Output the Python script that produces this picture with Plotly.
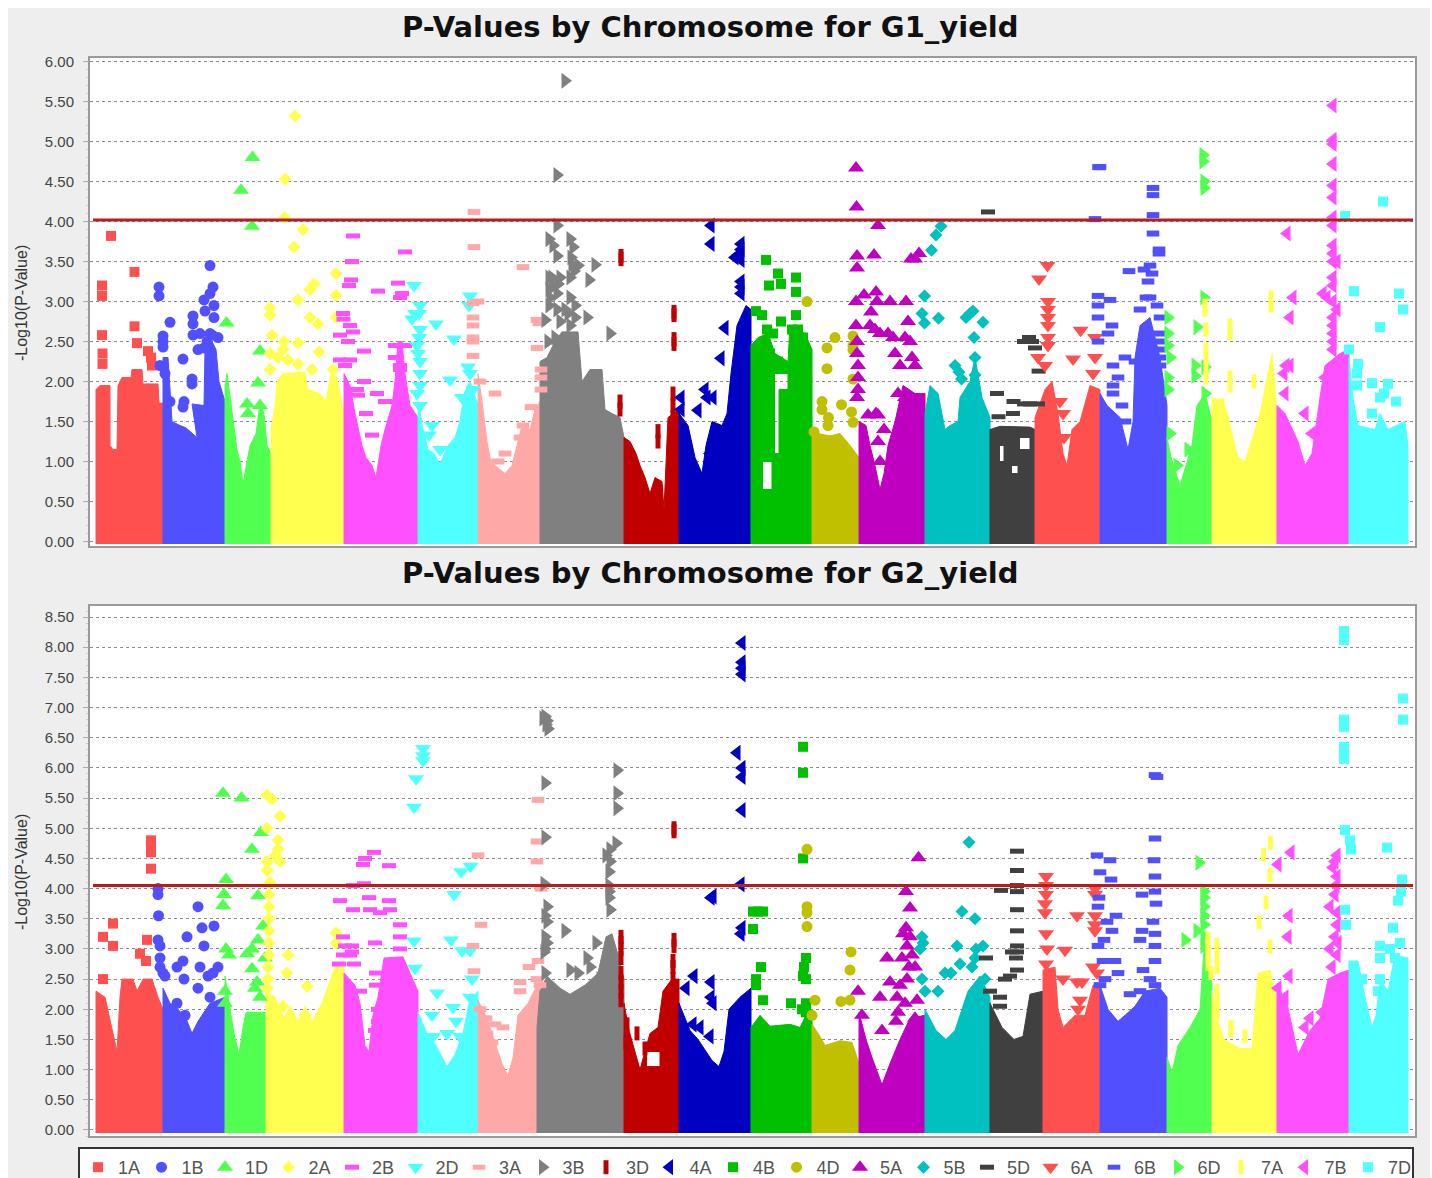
import plotly.graph_objects as go

W, H = 1432, 1178
CHROMS = ["1A","1B","1D","2A","2B","2D","3A","3B","3D","4A","4B","4D","5A","5B","5D","6A","6B","6D","7A","7B","7D"]
COLORS = ["#FF5050","#5050FF","#50FF50","#FFFF50","#FF50FF","#50FFFF","#FFA8A8","#808080","#C00000","#0000C0","#00C000","#C0C000","#C000C0","#00C0C0","#404040","#FF5050","#5050FF","#50FF50","#FFFF50","#FF50FF","#50FFFF"]
SYMBOLS = ["square","circle","triangle-up","diamond","line-ew","triangle-down","line-ew","triangle-right","line-ns","triangle-left","square","circle","triangle-up","diamond","line-ew","triangle-down","line-ew","triangle-right","line-ns","triangle-left","square"]
BOUNDS = [96,163,225,271,344,418,478,547,624,679,751,812,859,925,990,1043,1100,1167,1212,1277,1349,1408]
G1_THRESHOLD = 4.02
G2_THRESHOLD = 4.05

# ---- G1: upper outline of each chromosome's dense block (position, -log10 p)
G1_MASS_1A=[(96,1.9),(100,1.95),(110,1.95),(110,1.2),(113,1.15),(117,1.15),(118,1.95),(122,2.05),(131,2.05),(132,2.15),(142,2.15),(143,1.97),(158,1.97),(159,1.73),(163,1.73)]
G1_MASS_1B=[(163,2.3),(168,2.3),(170,1.9),(172,1.5),(180,1.45),(186,1.42),(197,1.3),(192,1.72),(204,1.7),(205,2.4),(212,2.5),(216,2.4),(219,2.0),(225,1.75)]
G1_MASS_1D=[(225,1.95),(227,2.1),(231,1.7),(234,1.4),(237,1.15),(240,1.0),(243,0.72),(247,1.0),(250,1.2),(256,1.35),(260,1.73),(264,1.6),(267,1.2),(271,1.1)]
G1_MASS_2A=[(271,1.4),(275,1.7),(277,2.0),(283,2.1),(305,2.12),(308,1.9),(320,1.85),(326,1.75),(331,2.1),(337,2.05),(344,1.6)]
G1_MASS_2B=[(344,2.1),(350,1.95),(355,1.6),(362,1.2),(366,1.05),(372,0.95),(376,0.8),(381,1.2),(385,1.4),(392,1.7),(395,2.0),(398,2.5),(402,2.5),(405,2.1),(410,1.7),(418,1.55)]
G1_MASS_2D=[(418,1.75),(423,1.4),(428,1.15),(434,1.1),(440,0.97),(448,1.2),(455,1.3),(460,1.5),(464,1.85),(470,2.0),(478,1.7)]
G1_MASS_3A=[(478,2.1),(482,1.75),(487,1.25),(490,1.05),(495,0.95),(505,0.85),(512,0.95),(518,1.25),(522,1.45),(530,1.4),(535,1.65),(540,1.75),(547,1.85)]
G1_MASS_3B=[(540,2.25),(547,2.3),(555,2.5),(562,2.62),(578,2.62),(582,2.0),(590,2.15),(602,2.15),(605,1.65),(612,1.6),(620,1.55),(624,1.3)]
G1_MASS_3D=[(624,1.3),(630,1.25),(636,1.1),(640,0.95),(645,0.8),(650,0.6),(655,0.8),(662,0.75),(664,0.4),(668,1.55),(679,1.65)]
G1_MASS_4A=[(679,1.6),(688,1.45),(695,1.05),(702,0.85),(706,1.2),(712,1.5),(722,1.45),(727,1.6),(731,2.1),(737,2.7),(746,2.95),(751,2.9)]
G1_MASS_4B=[(751,2.45),(758,2.55),(768,2.6),(775,2.35),(788,2.25),(790,2.7),(805,2.6),(812,2.4)]
G1_MASS_4D=[(812,1.3),(818,1.35),(830,1.32),(840,1.35),(850,1.2),(859,1.05)]
G1_MASS_5A=[(859,1.5),(866,1.45),(870,1.2),(875,0.95),(880,0.65),(884,0.85),(888,1.2),(895,1.5),(903,1.95),(915,1.85),(925,1.85)]
G1_MASS_5B=[(925,1.6),(930,1.95),(938,1.85),(945,1.4),(950,1.45),(958,1.5),(960,1.8),(970,2.0),(975,2.3),(982,1.8),(990,1.55)]
G1_MASS_5D=[(990,1.4),(1000,1.44),(1030,1.43),(1043,1.35)]
G1_MASS_6A=[(1035,1.55),(1045,1.9),(1052,2.0),(1058,1.6),(1063,1.1),(1067,0.95),(1072,1.4),(1080,1.5),(1090,1.95),(1100,1.9)]
G1_MASS_6B=[(1100,1.85),(1107,1.7),(1120,1.55),(1128,1.15),(1133,1.5),(1135,2.3),(1140,2.7),(1150,2.8),(1155,2.55),(1160,2.3),(1167,1.7)]
G1_MASS_6D=[(1167,1.3),(1172,1.0),(1180,0.7),(1186,0.95),(1192,1.2),(1197,1.7),(1205,1.85),(1212,1.5)]
G1_MASS_7A=[(1212,1.8),(1224,1.75),(1231,1.4),(1238,1.05),(1245,1.0),(1250,1.2),(1260,1.6),(1268,2.1),(1272,2.35),(1277,1.6)]
G1_MASS_7B=[(1277,1.7),(1285,1.6),(1298,1.25),(1305,0.95),(1312,1.1),(1320,1.8),(1325,2.2),(1340,2.35),(1349,2.4)]
G1_MASS_7D=[(1349,2.3),(1353,1.8),(1358,1.45),(1375,1.4),(1380,1.6),(1388,1.4),(1405,1.5),(1408,1.2)]

# ---- G1: individually visible markers
G1_HITS_1A=[(102,3.2),(102,3.07),(111,3.82),(102,2.58),(102.5,2.35),(102.5,2.22),(134.5,3.37),(134.5,2.69),(137,2.48),(148,2.38),(151,2.3),(152,2.2)]
G1_HITS_1B=[(159,3.18),(159,3.07),(170,2.74),(163,2.57),(163,2.5),(163,2.43),(183,2.28),(192,2.03),(192,1.97),(184,1.75),(183,1.68),(193,2.82),(193,2.72),(205,2.88),(204,3.02),(210,3.45),(213,3.18),(210,3.1),(214,2.95),(214,2.8),(207,2.5),(193,2.58),(200,2.6),(198,2.4),(204,2.42),(212,2.58),(218,2.55),(210,2.6),(160,2.2),(165,2.1),(170,1.75)]
G1_HITS_1D=[(241,4.39),(252.5,4.8),(252,3.94),(226.5,2.73),(260,2.38),(258,1.98),(247,1.72),(248,1.6),(260,1.7)]
G1_HITS_2A=[(295,5.32),(285,4.53),(284.5,4.05),(303,3.9),(294,3.68),(336,3.35),(314,3.22),(310,3.15),(298,3.02),(336,3.08),(270,2.92),(270,2.83),(310,2.8),(318,2.72),(336,2.8),(272,2.58),(284,2.5),(298,2.48),(319,2.37),(270,2.35),(278,2.3),(288,2.27),(298,2.22),(312,2.15),(333,2.15),(270,2.15),(283,2.4)]
G1_HITS_2B=[(353,3.82),(352,3.5),(351,3.27),(349,3.2),(343,2.85),(343.5,2.78),(350,2.7),(353,2.62),(340,2.58),(348,2.5),(340,2.27),(350,2.27),(345,2.2),(364,2.38),(364,2.0),(378,3.13),(398,3.23),(402,3.1),(400,3.05),(405,3.62),(358,1.83),(377,1.85),(366,1.6),(372,1.33),(395,2.45),(405,2.45),(395,2.3),(400,2.2),(400,2.15),(357,1.9),(385,1.75)]
G1_HITS_2D=[(414,3.2),(420,2.95),(419,2.85),(415,2.85),(412,2.78),(420,2.65),(419,2.55),(417,2.45),(418,2.35),(420,2.25),(420,2.1),(436,2.72),(454,2.53),(450,2.02),(470,3.07),(469,2.95),(468,2.18),(470,2.1),(420,1.95),(417,1.85),(420,1.7),(432,1.45),(429,1.33),(440,1.15),(462,1.8),(473,1.9)]
G1_HITS_3A=[(474,4.12),(474,3.68),(523,3.43),(478,3.0),(473,2.98),(473,2.8),(473,2.7),(473,2.55),(473,2.5),(473,2.32),(537,2.77),(539,2.73),(537,2.42),(541,2.15),(541,2.05),(480,2.0),(495,1.85),(531,1.68),(523,1.45),(520,1.3),(505,1.1),(498,1.0),(541,1.9)]
G1_HITS_3B=[(565,5.76),(557,4.58),(557,3.95),(549,3.78),(553,3.7),(570,3.78),(573,3.68),(557,3.57),(571,3.55),(578,3.45),(595,3.46),(549,3.3),(553,3.2),(560,3.3),(570,3.3),(589,3.27),(549,3.15),(557,3.1),(570,3.05),(575,2.95),(549,2.95),(557,2.9),(568,2.85),(575,2.8),(587,2.8),(610,2.6),(555,2.55),(545,2.77),(560,2.75),(570,2.7),(565,2.9),(548,2.5),(550,3.05),(558,3.22),(552,3.3),(572,3.46),(574,3.38)]
G1_HITS_3D=[(621,3.57),(621,3.53),(674,2.87),(674,2.83),(674,2.53),(674,2.47),(620,1.75),(620,1.65),(658,1.38),(658,1.25),(673,1.85),(673,1.7),(673,1.55)]
G1_HITS_4A=[(711,3.95),(711,3.72),(741,3.72),(741,3.65),(738,3.58),(741,3.52),(735,3.55),(741,3.25),(741,3.18),(741,3.1),(721,2.29),(725,2.67),(681,1.8),(705,1.9),(707,1.8),(698,1.64),(713,1.8),(681,1.65),(710,1.1)]
G1_HITS_4B=[(766,3.52),(778,3.35),(769,3.2),(781,3.22),(796,3.3),(796,3.12),(756,2.88),(762,2.83),(781,2.75),(796,2.83),(767,2.65),(773,2.6),(792,2.65),(798,2.65),(803,2.55),(762,2.4),(770,2.35),(778,2.25),(800,2.4)]
G1_HITS_4D=[(807,3.0),(835,2.55),(827,2.42),(827,2.16),(853,2.57),(853,2.45),(853,2.4),(853,2.03),(822,1.75),(822,1.65),(841.5,1.71),(828.5,1.55),(851.5,1.62),(853,1.49),(828,1.45),(814,1.37)]
G1_HITS_5A=[(856,4.67),(856.5,4.18),(878,3.95),(857,3.57),(857,3.42),(874,3.58),(911,3.53),(915,3.53),(919,3.6),(864,3.08),(856,3.0),(876,3.12),(877,3.0),(890,3.0),(906,3.0),(871,2.87),(856,2.7),(908,2.75),(870,2.7),(875,2.65),(880,2.6),(888,2.6),(893,2.55),(905,2.55),(910,2.5),(857,2.5),(857,2.35),(858,2.2),(895,2.35),(900,2.2),(912,2.3),(915,2.2),(858,2.05),(858,1.9),(857,1.8),(868,1.58),(876,1.6),(878,1.58),(884,1.4),(905,1.8),(898,1.85),(880,1.0),(878,1.25)]
G1_HITS_5B=[(941,3.94),(936,3.83),(931.5,3.64),(924.5,3.07),(922,2.85),(924.5,2.73),(938.5,2.79),(966,2.8),(970,2.85),(973,2.88),(983,2.74),(974,2.55),(955,2.2),(975,2.3),(961.5,2.03),(975,2.08),(959,2.12)]
G1_HITS_5D=[(988,4.12),(1024,2.5),(1029,2.55),(1032,2.5),(1035,2.42),(1038.6,2.13),(997,1.85),(1013.5,1.75),(1024,1.72),(1030,1.72),(1038,1.72),(998.5,1.56),(1013,1.6)]
G1_HITS_6A=[(1047.5,3.45),(1039,3.28),(1048,3.0),(1048,2.9),(1048,2.8),(1048,2.7),(1048,2.55),(1048,2.45),(1080.6,2.64),(1095,2.55),(1073,2.28),(1038,2.3),(1060,1.75),(1063,1.6),(1064,1.3),(1095,2.3),(1093,2.1),(1045,2.2)]
G1_HITS_6B=[(1098.5,4.68),(1100,4.68),(1095,4.03),(1153,4.42),(1153,4.33),(1153,4.08),(1153,3.85),(1159,3.6),(1159,3.65),(1144,3.4),(1129,3.38),(1150,3.45),(1152,3.35),(1148,3.25),(1098,3.07),(1110,3.02),(1098,2.95),(1098,2.8),(1112,2.7),(1108,2.6),(1098,2.5),(1146,3.05),(1150,3.05),(1157,2.95),(1160,2.8),(1140,2.9),(1160,2.6),(1160,2.5),(1160,2.4),(1160,2.3),(1160,2.2),(1113,2.2),(1125,2.3),(1118,2.05),(1113,1.95),(1113,1.85),(1122,1.7),(1125,1.5),(1135,2.25)]
G1_HITS_6D=[(1203,4.83),(1203,4.75),(1204,4.5),(1204,4.42),(1204,3.05),(1168,2.8),(1197,2.68),(1195,2.2),(1205,2.18),(1195,2.07),(1205,1.85),(1170,1.35),(1177,0.95),(1188,1.15),(1168,2.6),(1168,2.45),(1170,2.3),(1168,2.05),(1168,1.9)]
G1_HITS_7A=[(1205,2.95),(1205,2.9),(1206,2.65),(1206,2.4),(1206,2.3),(1206,2.15),(1206,2.05),(1230,2.7),(1230,2.6),(1230,2.05),(1230,1.95),(1254,2.0),(1271,3.05),(1271,2.95),(1222,1.7),(1226,1.5),(1225,1.15)]
G1_HITS_7B=[(1333,5.45),(1333,5.02),(1333,4.97),(1333,4.72),(1333,4.45),(1333,4.3),(1333,4.05),(1333,3.95),(1287,3.85),(1333,3.7),(1333,3.6),(1337,3.5),(1333,3.5),(1333,3.3),(1333,3.2),(1293,3.05),(1323,3.1),(1327,3.05),(1333,3.0),(1337,2.9),(1290,2.8),(1333,2.8),(1333,2.7),(1333,2.6),(1333,2.5),(1333,2.4),(1290,2.2),(1284,2.1),(1286,2.2),(1285,1.85),(1305,1.6),(1312,1.35),(1325,2.05)]
G1_HITS_7D=[(1345,4.07),(1383,4.25),(1354,3.13),(1399,3.1),(1403,2.9),(1380,2.68),(1349,2.4),(1358,2.22),(1357,2.1),(1372,1.98),(1388,1.97),(1384,1.85),(1380,1.8),(1396,1.75),(1357,1.95),(1372,1.6)]

# ---- G2: upper outlines
G2_MASS_1A=[(96,2.3),(105,2.2),(112,1.7),(117,1.3),(120,2.2),(122,2.5),(133,2.5),(137,2.3),(143,2.5),(152,2.5),(158,2.2),(163,2.0)]
G2_MASS_1B=[(163,2.35),(170,2.1),(178,2.0),(186,1.85),(192,1.6),(198,1.8),(210,2.1),(225,2.2)]
G2_MASS_1D=[(225,2.55),(230,2.0),(234,1.6),(239,1.25),(243,1.7),(246,1.95),(265,1.95),(271,1.8)]
G2_MASS_2A=[(266,2.3),(275,2.2),(284,1.85),(290,2.05),(298,1.8),(305,2.05),(312,1.8),(322,2.1),(335,2.7),(344,2.7)]
G2_MASS_2B=[(344,2.6),(355,2.4),(360,2.1),(365,1.4),(369,1.3),(373,1.9),(378,2.2),(384,2.85),(403,2.87),(410,2.6),(418,2.3)]
G2_MASS_2D=[(418,1.95),(427,1.6),(436,1.4),(447,1.05),(455,1.25),(463,1.6),(469,2.1),(478,2.3)]
G2_MASS_3A=[(478,2.15),(487,1.85),(495,1.45),(502,1.1),(508,0.9),(513,1.2),(518,1.9),(528,2.1),(537,2.4),(547,2.2)]
G2_MASS_3B=[(537,1.7),(540,2.3),(547,2.55),(560,2.35),(570,2.25),(585,2.4),(598,2.6),(606,3.2),(612,3.25),(618,2.9),(624,2.5)]
G2_MASS_3D=[(624,2.1),(629,1.65),(633,1.4),(640,1.0),(645,1.3),(650,1.6),(658,1.7),(663,2.3),(672,2.5),(679,2.5)]
G2_MASS_4A=[(679,2.1),(690,1.65),(698,1.5),(712,1.15),(719,1.05),(724,1.3),(729,2.0),(740,2.2),(751,2.35)]
G2_MASS_4B=[(751,1.7),(760,1.9),(770,1.72),(790,1.75),(800,1.7),(806,1.9),(812,1.85)]
G2_MASS_4D=[(812,1.75),(820,1.55),(825,1.4),(840,1.48),(852,1.45),(859,1.1)]
G2_MASS_5A=[(859,1.95),(866,1.5),(872,1.2),(882,0.75),(890,1.1),(900,1.5),(910,1.85),(925,1.9)]
G2_MASS_5B=[(925,2.0),(936,1.65),(946,1.5),(955,1.65),(968,2.3),(980,2.55),(990,2.2)]
G2_MASS_5D=[(990,2.1),(996,1.9),(1002,1.7),(1014,1.5),(1023,1.55),(1030,2.25),(1043,2.3)]
G2_MASS_6A=[(1043,2.65),(1055,2.7),(1058,2.0),(1063,1.7),(1075,1.9),(1085,1.9),(1093,2.4),(1100,2.4)]
G2_MASS_6B=[(1100,2.4),(1108,2.0),(1118,1.8),(1125,1.9),(1135,2.05),(1145,2.3),(1160,2.35),(1167,2.2)]
G2_MASS_6D=[(1167,1.2),(1172,0.95),(1178,1.4),(1190,1.7),(1200,2.0),(1204,3.0),(1208,3.0),(1212,2.4)]
G2_MASS_7A=[(1212,2.3),(1218,1.8),(1224,1.5),(1240,1.35),(1252,1.35),(1258,2.6),(1270,2.65),(1277,2.1)]
G2_MASS_7B=[(1277,2.4),(1287,2.1),(1298,1.25),(1310,1.65),(1320,1.85),(1328,2.5),(1340,2.6),(1349,2.65)]
G2_MASS_7D=[(1349,2.8),(1358,2.8),(1365,2.2),(1372,1.7),(1376,1.9),(1380,2.5),(1388,2.3),(1395,2.9),(1408,2.85)]

# ---- G2: individually visible markers
G2_HITS_1A=[(103,3.2),(113,3.42),(113,3.05),(103,2.5),(140,2.92),(146,2.8),(147,3.15),(151,4.8),(151,4.7),(151,4.6),(151,4.33)]
G2_HITS_1B=[(158,4.0),(158,3.9),(158.5,3.55),(158,3.15),(160,3.05),(160,2.85),(160,2.7),(163,2.6),(165,2.55),(177,2.7),(183,2.8),(187,3.2),(184,2.5),(198,3.7),(202,3.35),(214,3.38),(204,3.05),(200,2.7),(208,2.55),(198,2.35),(213,2.6),(218,2.7),(210,2.2),(177,2.1),(185,1.9)]
G2_HITS_1D=[(223,5.58),(241.5,5.5),(261,4.93),(252,4.65),(226,4.15),(224,3.9),(223,3.72),(258,3.88),(263,3.38),(258,3.15),(226,3.0),(229,2.9),(247,2.92),(252,3.0),(265,2.85),(252,2.67),(257,2.45),(260,2.2),(225,2.3),(225,2.1),(255,2.35)]
G2_HITS_2A=[(267,5.55),(272,5.48),(280,5.2),(267,5.0),(278,4.8),(278,4.65),(275,4.55),(267,4.45),(280,4.45),(267,4.3),(270,4.1),(269,3.9),(269,3.7),(269,3.5),(269,3.3),(269,3.1),(269,2.9),(268,2.7),(268,2.5),(288,2.9),(287,2.6),(307,2.38),(336,3.27),(336,3.1),(283,2.05),(305,1.9),(267,2.35)]
G2_HITS_2B=[(340,3.8),(365,4.5),(363,4.4),(374,4.6),(389,4.38),(353,4.05),(364,4.08),(369,3.85),(353,3.65),(370,3.65),(380,3.6),(389,3.8),(390,3.65),(400,3.4),(400,3.2),(400,3.0),(375,3.1),(343,3.2),(352,3.05),(343,2.9),(352,2.95),(339,2.75),(354,2.75),(376,2.6),(376,2.4),(360,2.3),(378,2.0),(378,1.8),(375,1.65),(350,2.9),(345,3.05)]
G2_HITS_2D=[(423,6.32),(423,6.2),(423,6.12),(416,5.82),(414,5.35),(470.6,4.37),(461,4.28),(454,3.9),(414,3.13),(451,3.15),(462,2.97),(470,2.97),(415,2.68),(472,2.5),(437,2.27),(453,2.03),(470,2.2),(432,1.9),(456,1.8),(447,1.6),(460,1.55),(433,1.55)]
G2_HITS_3A=[(538,5.47),(537,4.78),(537,4.45),(541,4.0),(478,4.55),(481,3.4),(473,3.05),(538,2.8),(529,2.7),(474,2.63),(520,2.45),(520,2.3),(537,2.5),(540,2.4),(480,2.0),(486,1.85),(495,1.75),(503,1.7),(487,1.6),(492,1.45)]
G2_HITS_3B=[(545,6.85),(547,6.78),(546,6.72),(548,6.65),(543,6.82),(617,5.96),(545,5.75),(617,5.58),(617,5.33),(545,4.85),(616,4.75),(610,4.65),(606,4.55),(610,4.45),(609,4.28),(609,4.05),(609,3.95),(609,3.85),(544,4.08),(547,3.7),(545,3.55),(547,3.45),(610,3.65),(545,3.2),(547,3.1),(545,3.0),(565,3.3),(596,3.1),(544,2.95),(587,2.85),(545,2.6),(570,2.65),(578,2.6),(590,2.7),(600,2.5)]
G2_HITS_3D=[(621,3.2),(621,3.1),(621,3.0),(621,2.85),(621,2.6),(621,2.45),(621,2.3),(621,2.15),(674,5.0),(674,4.95),(674,3.15),(674,3.05),(673,2.8),(673,2.7),(627,1.75),(637,1.6),(645,1.35),(673,2.5),(626,1.45)]
G2_HITS_4A=[(742,8.07),(742,7.75),(742,7.65),(742,7.55),(737,6.25),(742,6.0),(742,5.85),(742,5.3),(741,4.07),(711,3.85),(713,3.87),(742,3.35),(741,3.25),(694,2.55),(711,2.45),(686,2.35),(711,2.2),(693,1.75),(700,1.7),(710,1.55),(713,2.1)]
G2_HITS_4B=[(803,6.35),(803,5.92),(803,4.5),(753,3.62),(758,3.62),(763,3.62),(753,3.33),(761,2.7),(756,2.5),(756,2.4),(763,2.15),(791,2.1),(806,2.85),(804,2.7),(803,2.55),(806,2.5),(806,2.1),(806,1.95),(802,2.0)]
G2_HITS_4D=[(807,4.65),(807,3.7),(807,3.6),(807,3.37),(851,2.95),(850,2.65),(815,2.15),(841,2.13),(850,2.15),(812,1.9)]
G2_HITS_5A=[(918.5,4.51),(906,3.95),(910,3.68),(906,3.35),(903,3.25),(910,3.2),(907,3.05),(912,2.9),(915,2.7),(887,2.85),(902,2.85),(909,2.7),(890,2.45),(907,2.5),(900,2.4),(880,2.2),(897,2.2),(905,2.1),(917,2.15),(858,2.3),(862,1.9),(882,1.65),(896,1.8),(898,1.95),(915,1.85)]
G2_HITS_5B=[(969,4.77),(962,3.62),(975,3.5),(922,3.2),(923,3.1),(920,3.0),(957,3.05),(976,3.0),(983,3.05),(975,2.85),(972,2.7),(960,2.75),(945,2.6),(951,2.6),(985,2.5),(922,2.5),(925,2.3),(938,2.3)]
G2_HITS_5D=[(1017,4.62),(1017,4.3),(1017,4.05),(1017,3.95),(1001,3.97),(1017,3.65),(1017,3.3),(1017,3.05),(1017,2.95),(1012,2.95),(1016,2.85),(986,2.85),(1010,2.55),(1017,2.65),(1005,2.5),(1000,2.2),(990,2.3),(1000,2.05)]
G2_HITS_6A=[(1046,4.2),(1046,4.05),(1046,3.9),(1045,3.75),(1045,3.6),(1046,3.25),(1047,3.0),(1077,3.55),(1095,3.55),(1095,3.4),(1095,3.3),(1095,4.0),(1095,3.9),(1065,2.98),(1046,2.75),(1063,2.5),(1077,2.45),(1082,2.45),(1093,2.7),(1097,2.6),(1080,2.15),(1078,2.0)]
G2_HITS_6B=[(1155,5.88),(1157,5.85),(1155,4.83),(1097,4.55),(1110,4.47),(1100,4.27),(1111,4.15),(1154,4.47),(1155,4.2),(1155,3.95),(1142,3.9),(1156,3.75),(1116,3.55),(1153,3.45),(1099,3.85),(1098,3.7),(1107,3.45),(1112,3.3),(1104,3.15),(1098,3.05),(1142,3.3),(1155,3.25),(1140,3.15),(1155,3.05),(1103,2.8),(1115,2.8),(1143,2.65),(1155,2.8),(1105,2.5),(1118,2.6),(1100,2.4),(1150,2.5),(1140,2.3),(1130,2.25),(1155,2.4)]
G2_HITS_6D=[(1199,4.43),(1204,3.95),(1204,3.85),(1204,3.7),(1204,3.55),(1204,3.4),(1204,3.2),(1204,3.05),(1185,3.15),(1197,3.3)]
G2_HITS_7A=[(1270.4,4.76),(1263.5,4.56),(1270,4.23),(1266,3.77),(1259,3.44),(1270,3.04),(1208,3.17),(1217,3.07),(1231,1.71),(1245,1.55),(1208,3.05),(1208,2.9),(1208,2.75),(1217,2.85),(1217,2.7),(1211,2.6),(1217,2.3),(1217,2.1),(1217,1.95),(1231,1.65)]
G2_HITS_7B=[(1291,4.6),(1278,4.4),(1337,4.55),(1335,4.45),(1333,4.35),(1337,4.2),(1336,4.05),(1335,3.9),(1330,3.7),(1337,3.6),(1289,3.55),(1337,3.4),(1288,3.2),(1335,3.2),(1338,3.1),(1330,3.0),(1337,2.9),(1332,2.7),(1289,2.55),(1278,2.35),(1285,2.2),(1322,1.95),(1310,1.85),(1305,1.7)]
G2_HITS_7D=[(1344,8.27),(1344,8.2),(1344,8.12),(1403,7.15),(1403,6.8),(1344,6.8),(1344,6.68),(1344,6.35),(1344,6.2),(1344,6.15),(1345,4.97),(1350,4.8),(1351,4.65),(1387,4.68),(1402,4.15),(1401,3.95),(1398,3.8),(1345,3.65),(1346,3.4),(1393,3.35),(1400,3.1),(1380,3.05),(1390,3.0),(1395,2.85),(1380,2.85),(1380,2.5),(1362,2.5),(1358,2.3),(1378,2.3),(1354,2.65)]

# ---- white gaps inside the dense blocks (counter-clockwise rings)
G1_GAPS_4B=[[(775,1.1),(779,1.1),(779,1.9),(788,1.9),(788,2.1),(775,2.1)],[(763,0.65),(772,0.65),(772,1.0),(763,1.0)]]
G1_GAPS_5D=[[(1000,1.0),(1004,1.0),(1004,1.2),(1000,1.2)],[(1020,1.15),(1030,1.15),(1030,1.3),(1020,1.3)],[(1012,0.85),(1018,0.85),(1018,0.95),(1012,0.95)]]
G2_GAPS_3D=[[(647,1.05),(660,1.05),(660,1.3),(647,1.3)]]

G1_MASS=[G1_MASS_1A,G1_MASS_1B,G1_MASS_1D,G1_MASS_2A,G1_MASS_2B,G1_MASS_2D,G1_MASS_3A,G1_MASS_3B,G1_MASS_3D,G1_MASS_4A,G1_MASS_4B,G1_MASS_4D,G1_MASS_5A,G1_MASS_5B,G1_MASS_5D,G1_MASS_6A,G1_MASS_6B,G1_MASS_6D,G1_MASS_7A,G1_MASS_7B,G1_MASS_7D]
G1_HITS=[G1_HITS_1A,G1_HITS_1B,G1_HITS_1D,G1_HITS_2A,G1_HITS_2B,G1_HITS_2D,G1_HITS_3A,G1_HITS_3B,G1_HITS_3D,G1_HITS_4A,G1_HITS_4B,G1_HITS_4D,G1_HITS_5A,G1_HITS_5B,G1_HITS_5D,G1_HITS_6A,G1_HITS_6B,G1_HITS_6D,G1_HITS_7A,G1_HITS_7B,G1_HITS_7D]
G2_MASS=[G2_MASS_1A,G2_MASS_1B,G2_MASS_1D,G2_MASS_2A,G2_MASS_2B,G2_MASS_2D,G2_MASS_3A,G2_MASS_3B,G2_MASS_3D,G2_MASS_4A,G2_MASS_4B,G2_MASS_4D,G2_MASS_5A,G2_MASS_5B,G2_MASS_5D,G2_MASS_6A,G2_MASS_6B,G2_MASS_6D,G2_MASS_7A,G2_MASS_7B,G2_MASS_7D]
G2_HITS=[G2_HITS_1A,G2_HITS_1B,G2_HITS_1D,G2_HITS_2A,G2_HITS_2B,G2_HITS_2D,G2_HITS_3A,G2_HITS_3B,G2_HITS_3D,G2_HITS_4A,G2_HITS_4B,G2_HITS_4D,G2_HITS_5A,G2_HITS_5B,G2_HITS_5D,G2_HITS_6A,G2_HITS_6B,G2_HITS_6D,G2_HITS_7A,G2_HITS_7B,G2_HITS_7D]
G1_GAPS={"4B":G1_GAPS_4B,"5D":G1_GAPS_5D}
G2_GAPS={"3D":G2_GAPS_3D}

fig = go.Figure()

def sty(i):
    sym = SYMBOLS[i]; c = COLORS[i]
    if sym == "line-ew":
        thick = CHROMS[i] in ("3A", "6B")
        return dict(symbol=sym, size=9 if thick else 10, color=c, line=dict(color=c, width=6 if thick else 5))
    if sym == "line-ns":
        return dict(symbol=sym, size=10, color=c, line=dict(color=c, width=5))
    size = {"square": 10, "circle": 11, "diamond": 10}.get(sym, 14)
    return dict(symbol=sym, size=size, color=c, line=dict(width=0))

def add_panel(masses, hits, gaps, thr, xa, ya, legend):
    base = -0.03 if xa == "x" else -0.05
    for i, ch in enumerate(CHROMS):
        m = masses[i]
        xs = [m[0][0]] + [p[0] for p in m] + [m[-1][0]]
        ys = [base] + [p[1] for p in m] + [base]
        for ring in gaps.get(ch, []):
            xs += [None] + [p[0] for p in ring]
            ys += [None] + [p[1] for p in ring]
        fig.add_trace(go.Scatter(x=xs, y=ys, mode="lines", fill="toself", fillcolor=COLORS[i],
                                 line=dict(color=COLORS[i], width=1), hoverinfo="skip",
                                 showlegend=False, xaxis=xa, yaxis=ya))
    for i, ch in enumerate(CHROMS):
        fig.add_trace(go.Scatter(x=[p[0] for p in hits[i]], y=[p[1] for p in hits[i]], mode="markers",
                                 name=ch, legendgroup=ch, showlegend=legend, marker=sty(i),
                                 xaxis=xa, yaxis=ya))
    fig.add_trace(go.Scatter(x=[BOUNDS[0]-3, 1413], y=[thr, thr], mode="lines", line=dict(color="#B81C1C", width=3),
                             showlegend=False, hoverinfo="skip", xaxis=xa, yaxis=ya))

add_panel(G1_MASS, G1_HITS, G1_GAPS, G1_THRESHOLD, "x", "y", True)
add_panel(G2_MASS, G2_HITS, G2_GAPS, G2_THRESHOLD, "x2", "y2", False)

def ydom(top, bot):
    return [1 - bot / H, 1 - top / H]

xdom = [90 / W, 1415 / W]
xcommon = dict(range=[90, 1415], showticklabels=False, ticks="", showgrid=False, zeroline=False,
               showline=True, mirror=True, linecolor="#9a9a9a", linewidth=2)
ycommon = dict(showgrid=True, gridcolor="#8c8c8c", gridwidth=1, griddash="3px,3px", zeroline=False,
               showline=True, mirror=True, linecolor="#9a9a9a", linewidth=2, tickformat=".2f",
               tickfont=dict(family="Liberation Sans", size=15, color="#444"), ticks="outside", ticklen=5,
               tickcolor="#aaa", ticklabelstandoff=6, dtick=0.5, tick0=0,
               minor=dict(ticks="outside", ticklen=2, dtick=0.1, tickcolor="#ccc", showgrid=False))

TITLES = ["P-Values by Chromosome for G1_yield", "P-Values by Chromosome for G2_yield"]
annotations = []
for txt, py in zip(TITLES, [27, 573]):
    annotations.append(dict(text="<b>%s</b>" % txt, x=710 / W, y=1 - py / H, xref="paper", yref="paper",
                            xanchor="center", yanchor="middle", showarrow=False,
                            font=dict(family="DejaVu Sans", size=29, color="#111")))
for py in [303, 872]:
    annotations.append(dict(text="-Log10(P-Value)", x=21 / W, y=1 - py / H, xref="paper", yref="paper",
                            xanchor="center", yanchor="middle", textangle=-90, showarrow=False,
                            font=dict(family="Liberation Sans", size=16, color="#333")))

def white_plot_rect(top, bot):
    return dict(type="rect", xref="paper", yref="paper", x0=xdom[0], x1=xdom[1], y0=ydom(top, bot)[0], y1=ydom(top, bot)[1],
                fillcolor="white", line=dict(width=0), layer="below")

fig.update_layout(
    width=W, height=H, margin=dict(l=0, r=0, t=0, b=0, autoexpand=False), paper_bgcolor="white", plot_bgcolor="rgba(0,0,0,0)",
    xaxis=dict(domain=xdom, anchor="y", **xcommon),
    yaxis=dict(domain=ydom(58, 546), range=[-0.056, 6.044], anchor="x", **ycommon),
    xaxis2=dict(domain=xdom, anchor="y2", **xcommon),
    yaxis2=dict(domain=ydom(606, 1136), range=[-0.1, 8.683], anchor="x2", **ycommon),
    annotations=annotations,
    shapes=[dict(type="rect", xref="paper", yref="paper", x0=8 / W, x1=1430 / W, y0=0, y1=1 - 8 / H,
                 fillcolor="#EEEEEE", line=dict(width=0), layer="below"),
            white_plot_rect(58, 546), white_plot_rect(606, 1136)],
    legend=dict(orientation="h", xref="container", yref="container", x=78 / W, y=1 - 1147 / H,
                xanchor="left", yanchor="top",
                bgcolor="white", bordercolor="#333", borderwidth=2,
                font=dict(family="Liberation Sans", size=18, color="#555"),
                itemwidth=30, entrywidth=18.5, entrywidthmode="pixels", itemclick=False, itemdoubleclick=False),
    showlegend=True,
)
fig.write_html("out.html", config={"displayModeBar": False},
               post_script="document.body.style.margin='0';document.body.style.overflow='hidden';")
